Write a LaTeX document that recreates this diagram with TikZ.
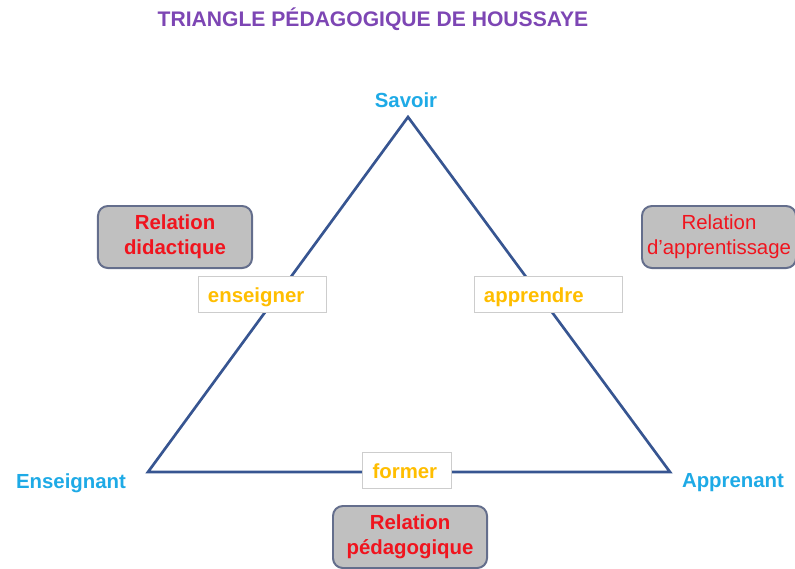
\documentclass[tikz,border=0pt]{standalone}
\usepackage{fontspec}
\setmainfont{Liberation Sans}
\usepackage{tikz}

\definecolor{titlepurple}{RGB}{125,70,180}
\definecolor{polecyan}{RGB}{30,170,230}
\definecolor{edgeblue}{RGB}{55,85,145}
\definecolor{relred}{RGB}{240,20,30}
\definecolor{relgray}{RGB}{192,192,192}
\definecolor{relborder}{RGB}{100,110,140}
\definecolor{verborange}{RGB}{255,190,0}
\definecolor{verbborder}{RGB}{205,205,205}

\begin{document}
\begin{tikzpicture}[x=0.025cm,y=-0.025cm,
  pole/.style={text=polecyan,font=\fontsize{14.5}{16}\selectfont\bfseries},
  relbox/.style={draw=relborder,line width=1.4pt,fill=relgray,rounded corners=7pt,
    minimum width=3.85cm,minimum height=1.55cm,align=center,text=relred,
    font=\fontsize{14.5}{17.5}\selectfont\bfseries},
  verbbox/.style={draw=verbborder,line width=0.6pt,fill=white,minimum height=0.9cm,
    inner xsep=0.25cm,inner ysep=2pt,align=left,text height=14.5pt,text depth=3pt,
    text=verborange,font=\fontsize{14.5}{16}\selectfont\bfseries},
  edge/.style={draw=edgeblue,line width=1.9pt}]
\useasboundingbox (0,0) rectangle (795,568);

% title
\node[text=titlepurple,font=\fontsize{15}{16}\selectfont\bfseries] (title) at (373,19) {TRIANGLE PÉDAGOGIQUE DE HOUSSAYE};

% corners of the triangle
\coordinate (sav) at (408,117);
\coordinate (ens) at (148,472);
\coordinate (app) at (670,472);
\draw[edge,line join=miter] (sav) -- (app) -- (ens) -- cycle;

% poles
\node[pole] (savoir) at (406,100) {Savoir};
\node[pole] (enseignant) at (71,483) {Enseignant};
\node[pole] (apprenant) at (733,483) {Apprenant};

% verbs on the sides
\node[verbbox,text width=2.7cm] (enseigner) at (262,294) {enseigner};
\node[verbbox,text width=3.2cm] (apprendre) at (548,294) {apprendre};
\node[verbbox,text width=1.72cm] (former) at (407,470) {former};

% relations
\node[relbox] (didactique) at (175,237) {Relation\\didactique};
\node[relbox,font=\fontsize{14.5}{17.5}\selectfont] (apprentissage) at (719,237) {Relation\\d'apprentissage};
\node[relbox] (pedagogique) at (410,537) {Relation\\pédagogique};

\end{tikzpicture}
\end{document}
